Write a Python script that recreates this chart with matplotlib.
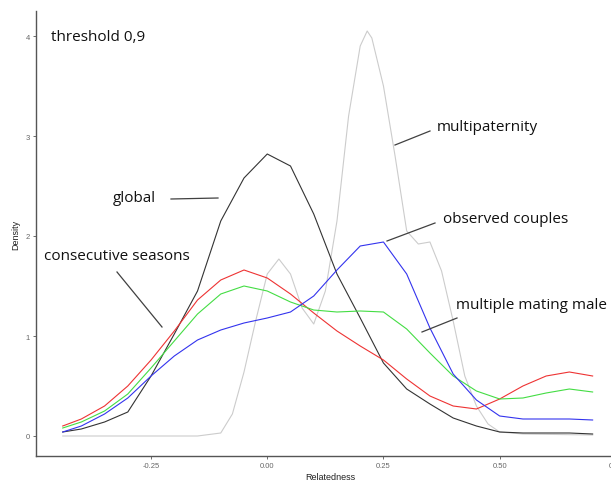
import numpy as np
import matplotlib
matplotlib.use("Agg")
import matplotlib.pyplot as plt
from matplotlib.lines import Line2D

# ---- data ----
x_grid = [-0.44, -0.40, -0.35, -0.30, -0.25, -0.20, -0.15, -0.10, -0.05, 0.00,
          0.05, 0.10, 0.15, 0.20, 0.25, 0.30, 0.35, 0.40, 0.45, 0.50,
          0.55, 0.60, 0.65, 0.70]
global_y = [0.04, 0.07, 0.14, 0.24, 0.60, 1.02, 1.45, 2.15, 2.58, 2.82,
            2.70, 2.22, 1.62, 1.18, 0.73, 0.47, 0.32, 0.18, 0.10, 0.04,
            0.03, 0.03, 0.03, 0.02]
consecutive_y = [0.10, 0.17, 0.30, 0.50, 0.76, 1.05, 1.36, 1.56, 1.66, 1.58,
                 1.42, 1.23, 1.05, 0.90, 0.76, 0.57, 0.40, 0.30, 0.27, 0.37,
                 0.50, 0.60, 0.64, 0.60]
multimating_y = [0.08, 0.14, 0.25, 0.42, 0.68, 0.95, 1.22, 1.42, 1.50, 1.45,
                 1.34, 1.26, 1.24, 1.25, 1.24, 1.07, 0.83, 0.60, 0.45, 0.37,
                 0.38, 0.43, 0.47, 0.44]
observed_y = [0.04, 0.10, 0.22, 0.38, 0.60, 0.80, 0.96, 1.06, 1.13, 1.18,
              1.24, 1.40, 1.66, 1.90, 1.94, 1.62, 1.08, 0.62, 0.36, 0.20,
              0.17, 0.17, 0.17, 0.16]
multipat_x = [-0.44, -0.30, -0.15, -0.10, -0.075, -0.05, -0.025, 0.00, 0.025, 0.05,
              0.075, 0.10, 0.125, 0.15, 0.175, 0.20, 0.215, 0.225, 0.25, 0.275,
              0.30, 0.325, 0.35, 0.375, 0.40, 0.425, 0.45, 0.475, 0.50, 0.55, 0.70]
multipat_y = [0.00, 0.00, 0.00, 0.03, 0.22, 0.64, 1.15, 1.62, 1.77, 1.62,
              1.28, 1.12, 1.45, 2.15, 3.20, 3.90, 4.05, 3.98, 3.50, 2.80,
              2.05, 1.92, 1.94, 1.65, 1.15, 0.60, 0.30, 0.12, 0.04, 0.02, 0.01]

x_ticks = [-0.25, 0.00, 0.25, 0.50, 0.75]
x_ticklabels = ["-0.25", "0.00", "0.25", "0.50", "0.75"]
y_ticks = [0, 1, 2, 3, 4]
y_ticklabels = ["0", "1", "2", "3", "4"]

W, H = 611, 485
fig = plt.figure(figsize=(W / 100, H / 100), dpi=100)
fig.patch.set_facecolor("white")

ax = fig.add_axes([36 / W, (H - 457) / H, (624 - 36) / W, (457 - 12) / H])
lw = 0.8
ax.plot(multipat_x, multipat_y, color="#cccccc", lw=lw)
ax.plot(x_grid, global_y, color="#333333", lw=lw)
ax.plot(x_grid, consecutive_y, color="#ee3333", lw=lw)
ax.plot(x_grid, multimating_y, color="#44dd44", lw=lw)
ax.plot(x_grid, observed_y, color="#3333ee", lw=lw)

ax.set_xlim(-0.4975, 0.7675)
ax.set_ylim(-0.2, 4.25)
ax.set_xticks(x_ticks)
ax.set_xticklabels(x_ticklabels)
ax.set_yticks(y_ticks)
ax.set_yticklabels(y_ticklabels)
for s in ["top", "right"]:
    ax.spines[s].set_visible(False)
for s in ["left", "bottom"]:
    ax.spines[s].set_color("#555555")
    ax.spines[s].set_linewidth(1.0)
ax.tick_params(axis="both", colors="#555555", labelcolor="#666666",
               labelsize=5.5, length=2.5, width=0.6, pad=2)
for lab in ax.get_xticklabels() + ax.get_yticklabels():
    lab.set_family("Liberation Sans")
ax.set_xlabel("Relatedness", fontsize=6.5, family="Liberation Sans",
              color="#222222", labelpad=2)
ax.set_ylabel("Density", fontsize=6.5, family="Liberation Sans",
              color="#222222", labelpad=4)


def px(x, y):
    return x / W, 1 - y / H


fs = 11
fam = "Open Sans"
for txt, (tx, ty) in [("threshold 0,9", (51, 38)),
                      ("global", (113, 199)),
                      ("consecutive seasons", (44, 257)),
                      ("multipaternity", (437, 128)),
                      ("observed couples", (443, 220)),
                      ("multiple mating male", (456, 306))]:
    fx, fy = px(tx, ty)
    fig.text(fx, fy, txt, fontsize=fs, family=fam, ha="left", va="center",
             color="#111111")

for (x0, y0), (x1, y1) in [((171, 200), (218, 199)),
                           ((117, 273), (162, 328)),
                           ((395, 146), (430, 132)),
                           ((387, 242), (435, 224)),
                           ((422, 333), (457, 319))]:
    a, b = px(x0, y0)
    c, d = px(x1, y1)
    fig.add_artist(Line2D([a, c], [b, d], transform=fig.transFigure,
                          color="#404040", lw=0.9))

fig.savefig("out.png", dpi=100, facecolor="white")
